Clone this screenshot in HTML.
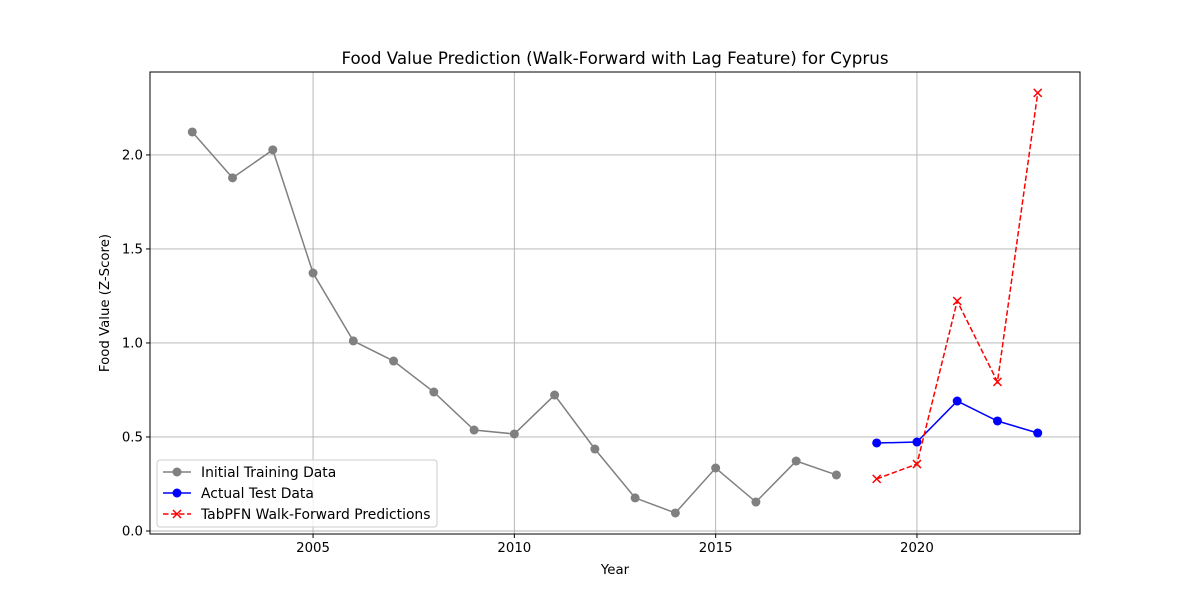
<!DOCTYPE html>
<html><head><meta charset="utf-8"><style>
body{margin:0;background:#fff;font-family:"Liberation Sans","DejaVu Sans",sans-serif}
svg text{font-family:"DejaVu Sans","Liberation Sans",sans-serif}
</style></head><body>
<svg id="chart" width="1200" height="600" xmlns="http://www.w3.org/2000/svg">
<rect width="1200" height="600" fill="#fff"/>
<text x="615" y="64" font-size="16.7" text-anchor="middle">Food Value Prediction (Walk-Forward with Lag Feature) for Cyprus</text>
<g id="grid"></g><g id="ticks"></g><g id="series"></g>
<rect x="150" y="72" width="930" height="462" fill="none" stroke="#000" stroke-width="1"/>
<text x="615" y="574" font-size="13.3" text-anchor="middle">Year</text>
<text x="0" y="0" font-size="13.3" text-anchor="middle" transform="translate(109,303) rotate(-90)">Food Value (Z-Score)</text>
<g>
<rect x="157" y="460" width="280" height="67" rx="3" fill="#fff" fill-opacity="0.8" stroke="#ccc"/>
<g><line x1="163" y1="472" x2="191" y2="472" stroke="gray" stroke-width="1.5"/><circle cx="177" cy="472" r="4.5" fill="gray"/><text x="201" y="477" font-size="13.9">Initial Training Data</text></g>
<g><line x1="163" y1="493" x2="191" y2="493" stroke="blue" stroke-width="1.5"/><circle cx="177" cy="493" r="4.5" fill="blue"/><text x="201" y="498" font-size="13.9">Actual Test Data</text></g>
<g><line x1="163" y1="514" x2="191" y2="514" stroke="red" stroke-width="1.5" stroke-dasharray="5.5,2.5"/><path d="M173,510 l8,8 M181,510 l-8,8" stroke="red" stroke-width="1.5"/><text x="201" y="519" font-size="13.9">TabPFN Walk-Forward Predictions</text></g>
</g>
</svg>
<script>
const trainYears=[2002,2003,2004,2005,2006,2007,2008,2009,2010,2011,2012,2013,2014,2015,2016,2017,2018];
const trainValues=[2.122,1.878,2.027,1.372,1.011,0.904,0.739,0.537,0.516,0.723,0.436,0.176,0.096,0.335,0.154,0.372,0.298];
const testYears=[2019,2020,2021,2022,2023];
const actualValues=[0.468,0.473,0.691,0.585,0.521];
const predValues=[0.277,0.356,1.223,0.793,2.33];
const xTicks=[2005,2010,2015,2020];
const yTicks=[0.0,0.5,1.0,1.5,2.0];
const NS="http://www.w3.org/2000/svg";
const X0=150,X1=1080,Y0=534,Y1=72,xMin=2000.95,xMax=2024.05,yMin=-0.016,yMax=2.441;
const sx=v=>X0+(v-xMin)/(xMax-xMin)*(X1-X0);
const sy=v=>Y0-(v-yMin)/(yMax-yMin)*(Y0-Y1);
function mk(tag,attrs,parent){const e=document.createElementNS(NS,tag);for(const k in attrs)e.setAttribute(k,attrs[k]);document.getElementById(parent).appendChild(e);return e;}
xTicks.forEach(t=>{
 const g=mk('line',{x1:sx(t),x2:sx(t),y1:Y1,y2:Y0,stroke:'#b0b0b0','stroke-width':0.9},'grid');
 
 
 mk('line',{x1:sx(t),x2:sx(t),y1:Y0,y2:Y0+4,stroke:'#000'},'ticks');
 const tx=mk('text',{x:sx(t),y:Y0+18,'font-size':13.3,'text-anchor':'middle'},'ticks');tx.textContent=t;
 
 
});
yTicks.forEach(t=>{
 const g=mk('line',{x1:X0,x2:X1,y1:sy(t),y2:sy(t),stroke:'#b0b0b0','stroke-width':0.9},'grid');
 
 
 mk('line',{x1:X0-4,x2:X0,y1:sy(t),y2:sy(t),stroke:'#000'},'ticks');
 const tx=mk('text',{x:X0-7,y:sy(t)+4.5,'font-size':13.3,'text-anchor':'end'},'ticks');tx.textContent=t.toFixed(1);
 
 
});
function series(xs,ys,color,name,dash,marker){
 const pts=xs.map((x,i)=>sx(x)+','+sy(ys[i])).join(' ');
 const l=mk('polyline',{points:pts,fill:'none',stroke:color,'stroke-width':1.5},'series');
 if(dash)l.setAttribute('stroke-dasharray',dash);
 
 
 xs.forEach((x,i)=>{
  let m;
  if(marker==='o')m=mk('circle',{cx:sx(x),cy:sy(ys[i]),r:4.5,fill:color},'series');
  else{const cx=sx(x),cy=sy(ys[i]);m=mk('path',{d:`M${cx-4},${cy-4} l8,8 M${cx+4},${cy-4} l-8,8`,stroke:color,'stroke-width':1.5},'series');}
  
  
 });
}
series(trainYears,trainValues,'gray','training',null,'o');
series(testYears,actualValues,'blue','actual',null,'o');
series(testYears,predValues,'red','prediction','5.5,2.5','x');
</script>
</body></html>
